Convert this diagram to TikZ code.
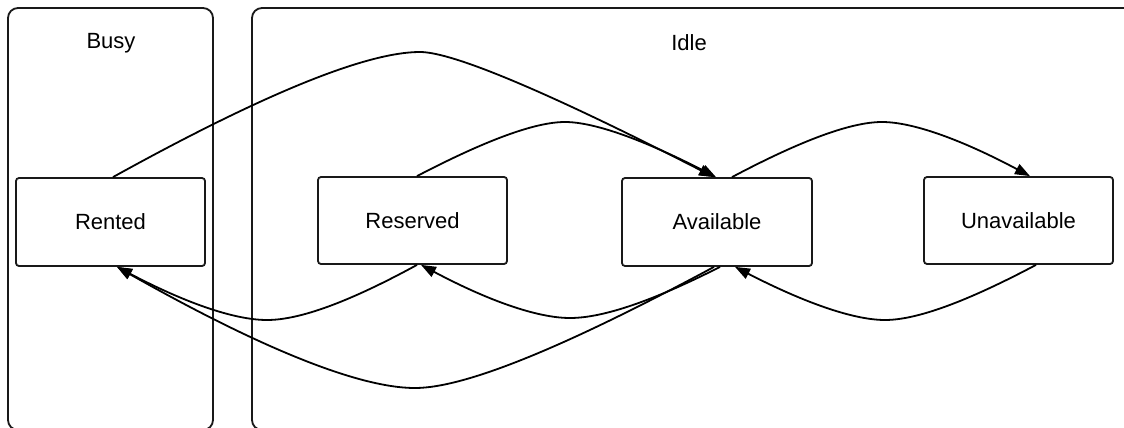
\documentclass[tikz,border=0pt]{standalone}
\usepackage{fontspec}
\setmainfont{Liberation Sans}
\usetikzlibrary{arrows.meta}
\tikzset{
  container/.style={draw=black!90, line width=1.8pt, rounded corners=10pt},
  statebox/.style={draw=black!90, line width=1.8pt, rounded corners=3pt, fill=white,
    minimum width=189pt, minimum height=87pt, inner sep=0pt,
    font=\fontsize{22}{26}\selectfont},
  title/.style={font=\fontsize{22}{26}\selectfont, inner sep=0pt},
  edge/.style={line width=1.8pt, black, -{Triangle[length=15pt,width=11pt]}},
}
\begin{document}
\begin{tikzpicture}[x=1pt,y=-1pt]
\useasboundingbox (0,0) rectangle (1124,428);
\clip (0,0) rectangle (1124,428);
\fill[white] (0,0) rectangle (1124,428);
% containers
\draw[container] (8,8) rectangle (213,430);
\draw[container] (252,8) rectangle (1136,430);
\node[title] (busy) at (111,43) {Busy};
\node[title] (idle) at (689,43) {Idle};
% states
\node[statebox, minimum height=88pt] (rented) at (110.5,222) {Rented};
\node[statebox] (reserved) at (412.5,220.5) {Reserved};
\node[statebox, minimum width=190pt, minimum height=88pt] (avail) at (717,222) {Available};
\node[statebox] (unavail) at (1018.5,220.5) {Unavailable};
% edges
\draw[edge] ([xshift=2.5]rented.north)
  .. controls (264.3,93.3) and (366.7,52) .. (420,52)
  .. controls (453.3,52) and (551.3,93.7) .. ([xshift=-3]avail.north);
\draw[edge] ([xshift=4.5]reserved.north)
  .. controls (485.7,140.3) and (535,122) .. (565,122)
  .. controls (595,122) and (645.3,140.7) .. ([xshift=-1]avail.north);
\draw[edge] ([xshift=15]avail.north)
  .. controls (800.7,140.7) and (850.7,122) .. (882,122)
  .. controls (913.3,122) and (962.7,140.3) .. ([xshift=11.5]unavail.north);
\draw[edge] ([xshift=17.5]unavail.south)
  .. controls (967.3,301.3) and (917,320) .. (885,320)
  .. controls (853,320) and (803,302) .. ([xshift=18]avail.south);
\draw[edge] ([xshift=3]avail.south)
  .. controls (653.3,300.7) and (603.3,318) .. (570,318)
  .. controls (536.7,318) and (487,300) .. ([xshift=8.5]reserved.south);
\draw[edge] ([xshift=4.5]reserved.south)
  .. controls (350.3,301.3) and (300.3,320) .. (267,320)
  .. controls (233.7,320) and (183.7,302) .. ([xshift=6.5]rented.south);
\draw[edge] ([xshift=-3]avail.south)
  .. controls (564.7,347.3) and (465,388) .. (415,388)
  .. controls (358.3,388) and (259,347.3) .. ([xshift=6.5]rented.south);
\end{tikzpicture}
\end{document}
